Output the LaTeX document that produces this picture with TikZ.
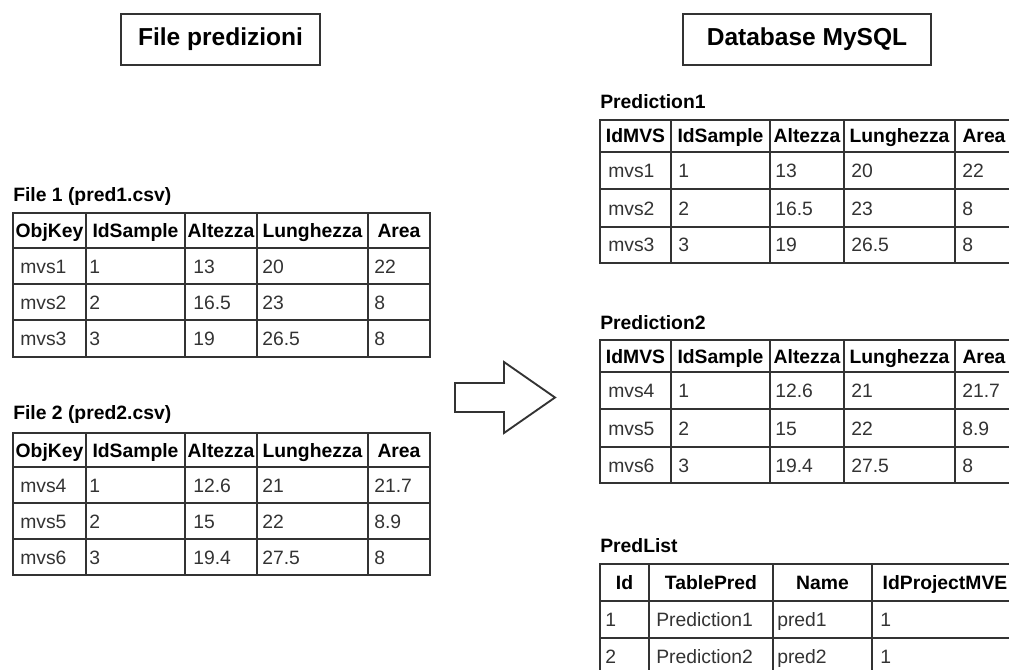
\documentclass[tikz,border=0pt]{standalone}
\usepackage{fontspec}
\setmainfont{Liberation Sans}
\definecolor{gridc}{HTML}{333333}
\definecolor{bodyc}{HTML}{333333}
\newcommand{\tsz}{\fontsize{14.5pt}{17pt}\selectfont}
\newcommand{\bsz}{\fontsize{18.4pt}{21pt}\selectfont}
\begin{document}
\begin{tikzpicture}[x=0.75pt,y=-0.75pt,
  grid/.style={draw=gridc,line width=1.1pt},
  hd/.style={font=\bfseries\tsz,text=black,inner sep=0pt,anchor=base},
  bd/.style={font=\tsz,text=bodyc,inner sep=0pt,anchor=base west},
  tbltitle/.style={font=\bfseries\tsz,text=black,inner sep=0pt,anchor=base west},
  titlebox/.style={draw=gridc,line width=1.5pt,fill=white,font=\bfseries\bsz,inner sep=0pt},
  blockarrow/.style={draw=gridc,line width=1.4pt,fill=white,line join=miter}]
\useasboundingbox (0,0) rectangle (1009,670);
\clip (0,0) rectangle (1009,670);

% ---- headings ----
\node[titlebox,minimum width=149.25pt,minimum height=38.25pt] (hfile) at (220.5,39.5) {File predizioni};
\node[titlebox,minimum width=186pt,minimum height=38.25pt] (hdb) at (807,39.5) {Database MySQL};

% ---- File 1 ----
\node[tbltitle] (c1) at (13,202) {File 1 (pred1.csv)};
\draw[grid] (13,213) rectangle (430,357);
\foreach \x in {86,185,257,368} \draw[grid] (\x,213) -- (\x,357);
\foreach \y in {248,284,320} \draw[grid] (13,\y) -- (430,\y);
\node[hd] (a-h1) at (49.5,237.5) {ObjKey};
\node[hd] (a-h2) at (135.5,237.5) {IdSample};
\node[hd] (a-h3) at (221,237.5) {Altezza};
\node[hd] (a-h4) at (312.5,237.5) {Lunghezza};
\node[hd] (a-h5) at (399,237.5) {Area};
\foreach \r/\yy/\k/\s/\h/\l/\ar in {1/273/mvs1/1/13/20/22, 2/309/mvs2/2/16.5/23/8, 3/345.5/mvs3/3/19/26.5/8}{
  \node[bd] (a-\r-1) at (20,\yy) {\k};
  \node[bd] (a-\r-2) at (89,\yy) {\s};
  \node[bd] (a-\r-3) at (193,\yy) {\h};
  \node[bd] (a-\r-4) at (262,\yy) {\l};
  \node[bd] (a-\r-5) at (374,\yy) {\ar};
}

% ---- File 2 ----
\node[tbltitle] (c2) at (13,419) {File 2 (pred2.csv)};
\draw[grid] (13,433) rectangle (430,575);
\foreach \x in {86,185,257,368} \draw[grid] (\x,433) -- (\x,575);
\foreach \y in {467,503,539} \draw[grid] (13,\y) -- (430,\y);
\node[hd] (b-h1) at (49.5,457) {ObjKey};
\node[hd] (b-h2) at (135.5,457) {IdSample};
\node[hd] (b-h3) at (221,457) {Altezza};
\node[hd] (b-h4) at (312.5,457) {Lunghezza};
\node[hd] (b-h5) at (399,457) {Area};
\foreach \r/\yy/\k/\s/\h/\l/\ar in {1/492/mvs4/1/12.6/21/21.7, 2/528/mvs5/2/15/22/8.9, 3/564/mvs6/3/19.4/27.5/8}{
  \node[bd] (b-\r-1) at (20,\yy) {\k};
  \node[bd] (b-\r-2) at (89,\yy) {\s};
  \node[bd] (b-\r-3) at (193,\yy) {\h};
  \node[bd] (b-\r-4) at (262,\yy) {\l};
  \node[bd] (b-\r-5) at (374,\yy) {\ar};
}

% ---- transfer arrow ----
\draw[blockarrow] (455,383) -- (504,383) -- (504,362) -- (555,397.5)
  -- (504,433) -- (504,412) -- (455,412) -- cycle;

% ---- Prediction1 ----
\node[tbltitle] (c3) at (600,109) {Prediction1};
\draw[grid] (600,120) rectangle (1013,263);
\foreach \x in {671,770,844,955} \draw[grid] (\x,120) -- (\x,263);
\foreach \y in {152,189,227} \draw[grid] (600,\y) -- (1013,\y);
\node[hd] (p-h1) at (635.5,143) {IdMVS};
\node[hd] (p-h2) at (720.5,143) {IdSample};
\node[hd] (p-h3) at (807,143) {Altezza};
\node[hd] (p-h4) at (899.5,143) {Lunghezza};
\node[hd] (p-h5) at (984,143) {Area};
\foreach \r/\yy/\k/\s/\h/\l/\ar in {1/177.5/mvs1/1/13/20/22, 2/215/mvs2/2/16.5/23/8, 3/252/mvs3/3/19/26.5/8}{
  \node[bd] (p-\r-1) at (608,\yy) {\k};
  \node[bd] (p-\r-2) at (678,\yy) {\s};
  \node[bd] (p-\r-3) at (775,\yy) {\h};
  \node[bd] (p-\r-4) at (851,\yy) {\l};
  \node[bd] (p-\r-5) at (962,\yy) {\ar};
}

% ---- Prediction2 ----
\node[tbltitle] (c4) at (600,329) {Prediction2};
\draw[grid] (600,340) rectangle (1013,483);
\foreach \x in {671,770,844,955} \draw[grid] (\x,340) -- (\x,483);
\foreach \y in {372,409,447} \draw[grid] (600,\y) -- (1013,\y);
\node[hd] (q-h1) at (635.5,363) {IdMVS};
\node[hd] (q-h2) at (720.5,363) {IdSample};
\node[hd] (q-h3) at (807,363) {Altezza};
\node[hd] (q-h4) at (899.5,363) {Lunghezza};
\node[hd] (q-h5) at (984,363) {Area};
\foreach \r/\yy/\k/\s/\h/\l/\ar in {1/397.5/mvs4/1/12.6/21/21.7, 2/435/mvs5/2/15/22/8.9, 3/472/mvs6/3/19.4/27.5/8}{
  \node[bd] (q-\r-1) at (608,\yy) {\k};
  \node[bd] (q-\r-2) at (678,\yy) {\s};
  \node[bd] (q-\r-3) at (775,\yy) {\h};
  \node[bd] (q-\r-4) at (851,\yy) {\l};
  \node[bd] (q-\r-5) at (962,\yy) {\ar};
}

% ---- PredList ----
\node[tbltitle] (c5) at (600,552) {PredList};
\draw[grid] (600,564) rectangle (1018,680);
\foreach \x in {649,773,872} \draw[grid] (\x,564) -- (\x,680);
\foreach \y in {601,638,675} \draw[grid] (600,\y) -- (1018,\y);
\node[hd] (l-h1) at (624.5,589.5) {Id};
\node[hd] (l-h2) at (711,589.5) {TablePred};
\node[hd] (l-h3) at (822.5,589.5) {Name};
\node[hd] (l-h4) at (945,589.5) {IdProjectMVE};
\foreach \r/\yy/\i/\t/\n/\p in {1/626.5/1/Prediction1/pred1/1, 2/663.5/2/Prediction2/pred2/1}{
  \node[bd] (l-\r-1) at (605,\yy) {\i};
  \node[bd] (l-\r-2) at (656,\yy) {\t};
  \node[bd] (l-\r-3) at (777,\yy) {\n};
  \node[bd] (l-\r-4) at (880,\yy) {\p};
}
\end{tikzpicture}
\end{document}
